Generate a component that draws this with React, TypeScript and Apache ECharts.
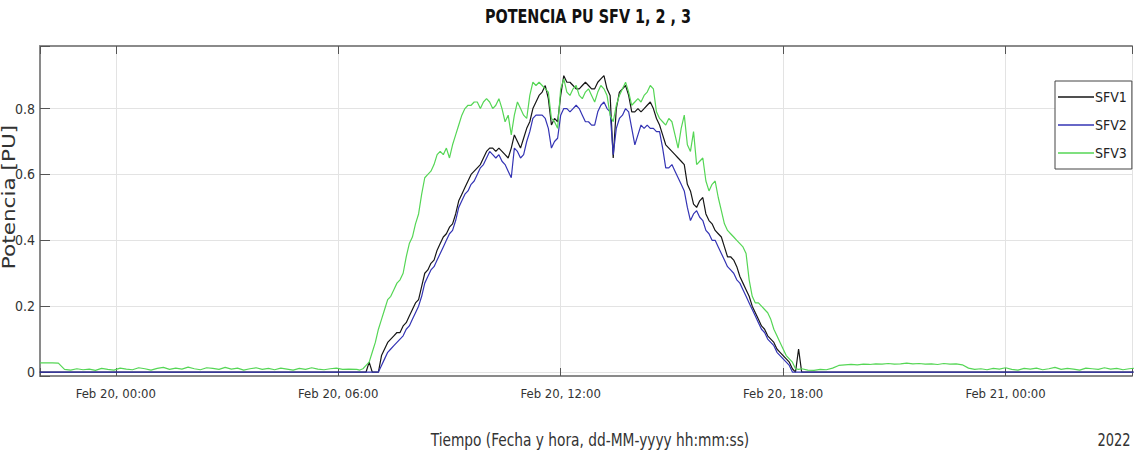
import React, { useEffect, useRef } from 'react';
import * as echarts from 'echarts';

const FONT = "'DejaVu Sans Condensed', 'Liberation Sans Narrow', 'Liberation Sans', Arial, sans-serif";

const titleText = 'POTENCIA PU SFV 1, 2 , 3';
const xAxisTitle = 'Tiempo (Fecha y hora, dd-MM-yyyy hh:mm:ss)';
const yAxisTitle = 'Potencia [PU]';
const yearText = '2022';

const seriesNames = ['SFV1', 'SFV2', 'SFV3'];
const seriesColors = ['#161616', '#3434b4', '#55d655'];

// x axis in hours since Feb 20, 00:00
const xTickHours = [0, 6, 12, 18, 24];
const xTickLabels = ['Feb 20, 00:00', 'Feb 20, 06:00', 'Feb 20, 12:00', 'Feb 20, 18:00', 'Feb 21, 00:00'];
const xMinHour = -2.045;
const xMaxHour = 27.41;

const yTickValues = [0, 0.2, 0.4, 0.6, 0.8];
const yTickLabels = ['0', '0.2', '0.4', '0.6', '0.8'];
const yMin = -0.012;
const yMax = 0.99;

// Daytime samples: every 5 minutes from 06:30 to 18:30
const dayStartHour = 6.5;
const dayStepMin = 5;

const sfv1Day = [
  0, 0, 0, 0, 0.03, 0, 0, 0, 0.05, 0.07,
  0.09, 0.10, 0.11, 0.12, 0.12, 0.14, 0.15, 0.17, 0.19, 0.21,
  0.22, 0.26, 0.30, 0.31, 0.33, 0.34, 0.37, 0.39, 0.41, 0.42,
  0.44, 0.45, 0.48, 0.52, 0.54, 0.56, 0.58, 0.60, 0.61, 0.62,
  0.63, 0.65, 0.67, 0.68, 0.68, 0.67, 0.68, 0.67, 0.66, 0.65,
  0.68, 0.72, 0.70, 0.68, 0.71, 0.74, 0.76, 0.80, 0.82, 0.84,
  0.85, 0.87, 0.83, 0.75, 0.77, 0.76, 0.84, 0.90, 0.88, 0.88,
  0.87, 0.86, 0.86, 0.87, 0.88, 0.87, 0.86, 0.86, 0.88, 0.89,
  0.90, 0.86, 0.84, 0.65, 0.80, 0.85, 0.86, 0.87, 0.84, 0.79,
  0.79, 0.80, 0.79, 0.80, 0.81, 0.82, 0.80, 0.77, 0.75, 0.72,
  0.69, 0.68, 0.67, 0.66, 0.65, 0.64, 0.63, 0.57, 0.55, 0.51,
  0.50, 0.52, 0.53, 0.48, 0.46, 0.45, 0.43, 0.42, 0.41, 0.38,
  0.35, 0.35, 0.34, 0.32, 0.29, 0.27, 0.25, 0.23, 0.20, 0.18,
  0.16, 0.14, 0.13, 0.11, 0.10, 0.09, 0.07, 0.06, 0.05, 0.04,
  0.03, 0.01, 0, 0.07, 0,
];

const sfv2Day = [
  0, 0, 0, 0, 0, 0, 0, 0, 0.02, 0.04,
  0.06, 0.07, 0.08, 0.09, 0.10, 0.11, 0.13, 0.14, 0.16, 0.18,
  0.20, 0.23, 0.27, 0.29, 0.31, 0.32, 0.34, 0.36, 0.38, 0.40,
  0.42, 0.43, 0.46, 0.50, 0.52, 0.54, 0.55, 0.57, 0.58, 0.60,
  0.62, 0.63, 0.65, 0.67, 0.66, 0.65, 0.66, 0.64, 0.63, 0.61,
  0.59, 0.68, 0.67, 0.65, 0.66, 0.70, 0.73, 0.77, 0.78, 0.78,
  0.78, 0.77, 0.74, 0.68, 0.70, 0.71, 0.78, 0.80, 0.80, 0.79,
  0.80, 0.81, 0.80, 0.78, 0.76, 0.76, 0.75, 0.75, 0.79, 0.81,
  0.82, 0.80, 0.79, 0.66, 0.74, 0.77, 0.78, 0.80, 0.79, 0.74,
  0.69, 0.72, 0.75, 0.74, 0.75, 0.74, 0.74, 0.73, 0.73, 0.68,
  0.62, 0.62, 0.63, 0.61, 0.59, 0.57, 0.55, 0.50, 0.46, 0.48,
  0.49, 0.47, 0.46, 0.43, 0.42, 0.40, 0.40, 0.38, 0.36, 0.34,
  0.32, 0.31, 0.30, 0.28, 0.27, 0.25, 0.23, 0.21, 0.19, 0.17,
  0.15, 0.13, 0.12, 0.10, 0.09, 0.08, 0.06, 0.05, 0.04, 0.03,
  0.02, 0, 0, 0, 0,
];

const sfv3Day = [
  0.008, 0.006, 0.010, 0.020, 0.030, 0.060, 0.090, 0.130, 0.160, 0.190,
  0.22, 0.23, 0.25, 0.27, 0.28, 0.30, 0.35, 0.39, 0.41, 0.45,
  0.48, 0.54, 0.59, 0.60, 0.61, 0.63, 0.66, 0.67, 0.66, 0.68,
  0.65, 0.69, 0.72, 0.75, 0.78, 0.80, 0.81, 0.81, 0.82, 0.82,
  0.80, 0.82, 0.83, 0.82, 0.80, 0.81, 0.83, 0.80, 0.76, 0.78,
  0.72, 0.78, 0.82, 0.80, 0.78, 0.77, 0.84, 0.88, 0.87, 0.88,
  0.87, 0.86, 0.85, 0.77, 0.76, 0.74, 0.86, 0.89, 0.85, 0.84,
  0.86, 0.87, 0.84, 0.83, 0.85, 0.86, 0.84, 0.82, 0.85, 0.87,
  0.86, 0.84, 0.78, 0.76, 0.81, 0.84, 0.86, 0.88, 0.85, 0.81,
  0.82, 0.83, 0.82, 0.84, 0.85, 0.87, 0.86, 0.79, 0.77, 0.76,
  0.75, 0.77, 0.76, 0.72, 0.68, 0.74, 0.78, 0.69, 0.67, 0.73,
  0.63, 0.64, 0.65, 0.58, 0.55, 0.57, 0.58, 0.53, 0.49, 0.45,
  0.43, 0.42, 0.41, 0.40, 0.39, 0.38, 0.36, 0.28, 0.23, 0.21,
  0.21, 0.20, 0.19, 0.18, 0.16, 0.13, 0.11, 0.09, 0.07, 0.05,
  0.04, 0.03, 0.01, 0.008, 0.010,
];

// Night samples for SFV3: every 10 minutes
const nightStepMin = 10;
const preDawnStartHour = -2.05;
const sfv3PreDawn = [
  0.028, 0.028, 0.028, 0.027, 0.008, 0.006, 0.010, 0.007, 0.009, 0.005,
  0.011, 0.008, 0.006, 0.012, 0.009, 0.007, 0.013, 0.010, 0.006, 0.011,
  0.014, 0.008, 0.012, 0.009, 0.015, 0.010, 0.007, 0.013, 0.011, 0.008,
  0.014, 0.009, 0.012, 0.006, 0.010, 0.013, 0.008, 0.011, 0.007, 0.012,
  0.009, 0.006, 0.011, 0.008, 0.013, 0.009, 0.007, 0.010, 0.012, 0.008,
  0.009,
];
const postSunsetStartHour = 18 + 40 / 60;
const sfv3PostSunset = [
  0.006, 0.005, 0.008, 0.007, 0.012,
  0.020, 0.022, 0.023, 0.022, 0.024, 0.023, 0.025, 0.024, 0.026, 0.024,
  0.025, 0.027, 0.025, 0.026, 0.024, 0.025, 0.023, 0.026, 0.024, 0.025, 0.022,
  0.012, 0.008, 0.010, 0.007, 0.011, 0.009, 0.013, 0.008, 0.006, 0.011,
  0.009, 0.012, 0.007, 0.010, 0.014, 0.008, 0.011, 0.009, 0.006, 0.012,
  0.010, 0.008, 0.013, 0.009, 0.011, 0.007, 0.010, 0.012,
];

// SFV1 / SFV2 stay at zero through the night
const flatNightHours = [-2.05, 27.45];
const sfv1NightValues = [0, 0];
const sfv2NightValues = [0, 0];

function seq(start: number, stepMin: number, values: number[]) {
  return values.map((v, i) => [start + (i * stepMin) / 60, v]);
}

function buildSeries() {
  const s1 = [
    [flatNightHours[0], sfv1NightValues[0]],
    ...seq(dayStartHour, dayStepMin, sfv1Day),
    [flatNightHours[1], sfv1NightValues[1]],
  ];
  const s2 = [
    [flatNightHours[0], sfv2NightValues[0]],
    ...seq(dayStartHour, dayStepMin, sfv2Day),
    [flatNightHours[1], sfv2NightValues[1]],
  ];
  const s3 = [
    ...seq(preDawnStartHour, nightStepMin, sfv3PreDawn),
    ...seq(dayStartHour, dayStepMin, sfv3Day),
    ...seq(postSunsetStartHour, nightStepMin, sfv3PostSunset),
  ];
  return [s1, s2, s3];
}

function xLabel(v: number) {
  const idx = xTickHours.findIndex((h) => Math.abs(h - v) < 1e-6);
  return idx >= 0 ? xTickLabels[idx] : '';
}
function yLabel(v: number) {
  const idx = yTickValues.findIndex((h) => Math.abs(h - v) < 1e-6);
  return idx >= 0 ? yTickLabels[idx] : '';
}

export default function App() {
  const ref = useRef<HTMLDivElement>(null);

  useEffect(() => {
    document.body.style.margin = '0';
    if (!ref.current) return;
    const chart = echarts.init(ref.current, undefined, { renderer: 'svg' });
    const data = buildSeries();
    const axisLineColor = '#8a8a8a';
    const gridColor = '#e3e3e3';
    const labelColor = '#333';

    const baseX = {
      type: 'value',
      min: xMinHour,
      max: xMaxHour,
      minInterval: 6,
      maxInterval: 6,
      axisLine: { show: true, onZero: false, lineStyle: { color: axisLineColor, width: 2 } },
      axisTick: { show: true, inside: true, length: 8, lineStyle: { color: '#555', width: 1 } },
    };

    chart.setOption({
      animation: false,
      textStyle: { fontFamily: FONT },
      grid: { left: 40, right: 0, top: 46, bottom: 81, containLabel: false },
      legend: {
        show: true,
        orient: 'vertical',
        left: 1055,
        top: 81,
        icon: 'rect',
        itemWidth: 36,
        itemHeight: 1.6,
        itemGap: 12,
        padding: [8, 5, 8, 3],
        backgroundColor: '#ffffff',
        borderColor: '#444',
        borderWidth: 1,
        borderRadius: 0,
        textStyle: { fontFamily: FONT, fontSize: 14, color: '#222', padding: [0, 0, 0, -4], lineHeight: 16 },
        data: seriesNames,
      },
      xAxis: [
        {
          ...baseX,
          position: 'bottom',
          axisLabel: {
            show: true,
            margin: 11,
            fontSize: 13,
            color: labelColor,
            fontFamily: FONT,
            formatter: xLabel,
          },
          splitLine: { show: true, lineStyle: { color: gridColor, width: 1 } },
        },
        {
          ...baseX,
          position: 'top',
          axisLabel: { show: false },
          splitLine: { show: false },
        },
      ],
      yAxis: {
        type: 'value',
        min: yMin,
        max: yMax,
        minInterval: 0.2,
        maxInterval: 0.2,
        axisLine: { show: true, onZero: false, lineStyle: { color: axisLineColor, width: 2 } },
        axisTick: { show: true, inside: true, length: 10, lineStyle: { color: '#555', width: 1 } },
        axisLabel: { show: true, margin: 5, fontSize: 14, color: labelColor, fontFamily: FONT, formatter: yLabel },
        splitLine: { show: true, lineStyle: { color: gridColor, width: 1 } },
      },
      series: data.map((d, i) => ({
        name: seriesNames[i],
        type: 'line',
        xAxisIndex: 0,
        data: d,
        symbol: 'none',
        showSymbol: false,
        clip: true,
        lineStyle: { color: seriesColors[i], width: 1.2 },
        itemStyle: { color: seriesColors[i] },
        z: 2 + i,
      })),
      graphic: [
        {
          type: 'text',
          x: 588,
          y: 16,
          scaleX: 0.8,
          style: {
            text: titleText,
            fontFamily: FONT,
            fontSize: 20,
            fontWeight: 'bold',
            fill: '#111',
            textAlign: 'center',
            textVerticalAlign: 'middle',
          },
        },
        {
          type: 'text',
          x: 590,
          y: 440,
          scaleX: 0.85,
          style: {
            text: xAxisTitle,
            fontFamily: FONT,
            fontSize: 18,
            fill: '#333',
            textAlign: 'center',
            textVerticalAlign: 'middle',
          },
        },
        {
          type: 'text',
          x: 1114,
          y: 440,
          scaleX: 0.85,
          style: {
            text: yearText,
            fontFamily: FONT,
            fontSize: 17,
            fill: '#333',
            textAlign: 'center',
            textVerticalAlign: 'middle',
          },
        },
        {
          type: 'text',
          x: 9,
          y: 197,
          rotation: Math.PI / 2,
          scaleY: 0.7,
          style: {
            text: yAxisTitle,
            fontFamily: FONT,
            fontSize: 24,
            fill: '#333',
            textAlign: 'center',
            textVerticalAlign: 'middle',
          },
        },
      ],
    });

    return () => {
      chart.dispose();
    };
  }, []);

  return <div ref={ref} style={{ width: 1135, height: 457 }} />;
}
